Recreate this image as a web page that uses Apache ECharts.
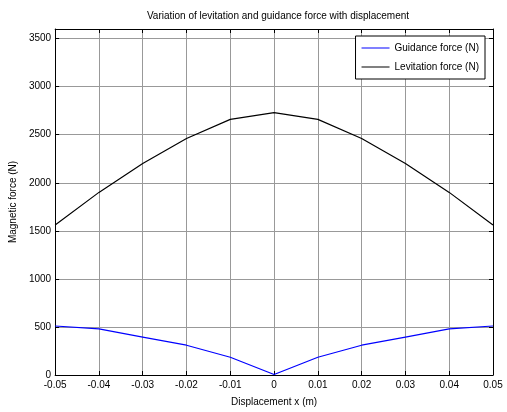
<!DOCTYPE html>
<html>
<head>
<meta charset="utf-8">
<script src="https://cdn.jsdelivr.net/npm/echarts@6/dist/echarts.min.js"></script>
<style>
  html, body { margin: 0; padding: 0; background: #fff; }
  #main { width: 507px; height: 412px; }
</style>
</head>
<body>
<div id="main"></div>
<script>
// displacement x (m)
var displacement = [-0.05, -0.04, -0.03, -0.02, -0.01, 0, 0.01, 0.02, 0.03, 0.04, 0.05];
var guidanceForce = [510, 480, 395, 310, 185, 5, 185, 310, 395, 480, 510];
var levitationForce = [1560, 1900, 2200, 2460, 2660, 2730, 2660, 2460, 2200, 1900, 1560];

var font = '"Liberation Sans Narrow", "Liberation Sans", Arial, sans-serif';

function pairs(xs, ys) {
  return xs.map(function (x, i) { return [x, ys[i]]; });
}

var chart = echarts.init(document.getElementById('main'));

var frameAxis = {
  axisLine: { show: true, onZero: false, lineStyle: { color: '#000', width: 1 } },
  axisTick: { show: true, inside: true, length: 4, lineStyle: { color: '#000' } },
  axisLabel: { show: false },
  splitLine: { show: false }
};

chart.setOption({
  animation: false,
  backgroundColor: '#fff',
  textStyle: { fontFamily: font },
  title: {
    text: 'Variation of levitation and guidance force with displacement',
    left: 273, top: 6, textAlign: 'center',
    textStyle: { fontSize: 10, fontWeight: 'normal', color: '#000', fontFamily: font }
  },
  legend: {
    right: 22, top: 36,
    orient: 'vertical',
    backgroundColor: '#fff',
    borderColor: '#000', borderWidth: 1, borderRadius: 0,
    padding: [7, 6, 7, 6],
    itemGap: 9,
    itemWidth: 28, itemHeight: 1,
    icon: 'rect',
    textStyle: { fontSize: 10, color: '#000', fontFamily: font },
    data: ['Guidance force (N)', 'Levitation force (N)']
  },
  grid: { left: 53, right: 14, top: 29, bottom: 35 },
  xAxis: [
    {
      type: 'value', min: -0.05, max: 0.05, interval: 0.01,
      name: 'Displacement x (m)', nameLocation: 'middle', nameGap: 22,
      nameTextStyle: { fontSize: 10, color: '#000', fontFamily: font },
      axisLine: { show: true, onZero: false, lineStyle: { color: '#000' } },
      axisTick: { show: true, inside: true, length: 4, lineStyle: { color: '#000' } },
      axisLabel: {
        color: '#000', fontSize: 10, margin: 5,
        formatter: function (v) { return String(+v.toFixed(2)); }
      },
      splitLine: { show: true, lineStyle: { color: '#999', width: 1 } }
    },
    Object.assign({ type: 'value', position: 'top', min: -0.05, max: 0.05, interval: 0.01 }, frameAxis)
  ],
  yAxis: [
    {
      type: 'value', min: 0, max: 3600, interval: 500,
      name: 'Magnetic force (N)', nameLocation: 'middle', nameGap: 34,
      nameTextStyle: { fontSize: 10, color: '#000', fontFamily: font },
      axisLine: { show: true, onZero: false, lineStyle: { color: '#000' } },
      axisTick: { show: true, inside: true, length: 4, lineStyle: { color: '#000' } },
      axisLabel: {
        color: '#000', fontSize: 10, margin: 4,
        showMaxLabel: false,
        formatter: function (v) { return String(v); }
      },
      splitLine: { show: true, lineStyle: { color: '#999', width: 1 } }
    },
    Object.assign({ type: 'value', position: 'right', min: 0, max: 3600, interval: 500 }, frameAxis)
  ],
  series: [
    {
      name: 'Guidance force (N)', type: 'line',
      data: pairs(displacement, guidanceForce),
      showSymbol: false, symbol: 'none',
      lineStyle: { color: '#0000ff', width: 1.2 },
      itemStyle: { color: '#0000ff' }
    },
    {
      name: 'Levitation force (N)', type: 'line',
      data: pairs(displacement, levitationForce),
      showSymbol: false, symbol: 'none',
      lineStyle: { color: '#000', width: 1.2 },
      itemStyle: { color: '#000' }
    }
  ]
});
</script>
</body>
</html>
